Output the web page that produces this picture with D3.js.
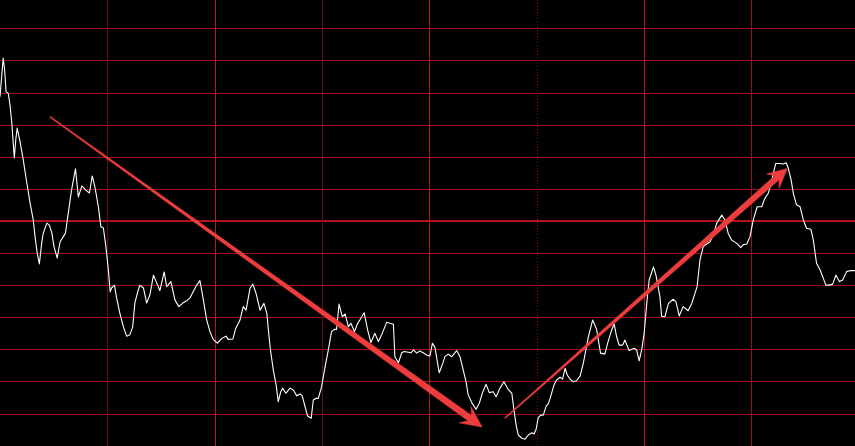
<!DOCTYPE html>
<html>
<head>
<meta charset="utf-8">
<script src="https://cdn.jsdelivr.net/npm/d3@7"></script>
<style>
  html, body { margin: 0; padding: 0; background: #000; overflow: hidden; }
</style>
</head>
<body>
<div id="my_dataviz"></div>
<script>
// intraday trace: minute of session and % change vs previous close
var minutes = [0, 0.5, 0.9, 1.3, 1.7, 2.3, 2.8, 3.3, 3.7, 4.0, 4.4, 4.8, 5.6, 6.5, 7.5, 8.4, 9.3, 9.8, 10.4, 11.0,
  11.7, 12.1, 13.1, 13.8, 14.5, 15.1, 16.0, 16.8, 17.7, 18.3, 19.1, 20.0, 21.1, 21.9, 22.9, 24.0, 25.0, 25.8, 26.6, 27.5,
  28.2, 28.9, 29.6, 30.3, 30.8, 31.2, 32.0, 32.6, 33.5, 34.5, 35.4, 36.3, 37.1, 37.7, 38.5, 39.1, 40.1, 41.0, 41.9, 42.9,
  43.8, 44.7, 45.9, 46.6, 47.8, 48.9, 50.0, 51.1, 52.2, 53.1, 54.0, 55.0, 55.9, 56.7, 57.8, 58.7, 59.6, 60.8, 62.0, 63.2,
  63.8, 65.1, 65.9, 67.1, 68.0, 68.8, 69.9, 70.7, 71.6, 72.7, 73.8, 74.6, 75.5, 76.4, 77.2, 77.8, 78.5, 79.0, 79.9, 81.1,
  82.0, 83.0, 83.9, 84.5, 85.3, 86.0, 87.0, 87.6, 88.3, 89.0, 89.9, 90.9, 91.8, 92.7, 93.5, 94.1, 94.8, 95.7, 96.5, 97.4,
  98.1, 99.1, 100.0, 100.6, 101.8, 102.8, 103.7, 104.8, 105.8, 106.7, 108.1, 109.0, 110.0, 110.4, 111.4, 112.3, 113.0, 114.2, 114.9, 115.6,
  116.5, 117.4, 118.3, 119.3, 120.2, 120.9, 121.6, 122.8, 123.8, 124.4, 125.3, 126.3, 127.7, 128.6, 129.5, 130.3, 130.9, 131.9, 133.1, 134.0,
  135.0, 135.9, 136.8, 137.9, 138.7, 139.8, 140.9, 142.1, 143.1, 143.7, 144.3, 144.9, 145.9, 146.8, 147.7, 148.7, 149.3, 149.9, 150.5, 151.2,
  151.9, 152.7, 153.3, 153.8, 154.9, 155.6, 156.6, 157.3, 158.0, 158.6, 159.4, 160.3, 161.2, 162.2, 163.1, 164.5, 165.7, 166.8, 167.9, 169.1,
  169.9, 171.0, 171.7, 172.4, 173.1, 174.1, 174.7, 175.9, 177.3, 178.0, 178.7, 179.4, 180.1, 181.0, 181.5, 182.7, 183.4, 184.5, 185.0, 185.9,
  186.9, 188.2, 189.0, 189.9, 191.0, 192.4, 193.4, 194.3, 194.9, 195.7, 196.6, 197.6, 198.5, 199.4, 200.4, 201.8, 202.7, 203.6, 204.6, 206.0,
  207.1, 207.8, 208.8, 209.7, 210.6, 211.7, 213.0, 213.7, 214.8, 215.5, 216.2, 216.9, 218.1, 219.0, 219.8, 220.4, 221.2, 221.8, 222.7, 223.7,
  224.6, 225.5, 226.7, 227.4, 228.3, 229.3, 230.2, 230.9, 231.9, 232.8, 233.7, 234.7, 235.6, 236.7, 237.6, 239.0];
var pctChange = [3.87, 4.55, 5.07, 4.70, 4.02, 3.98, 3.61, 3.05, 2.43, 1.96, 2.52, 2.89, 2.47, 1.90, 1.18, 0.56, 0.03, -0.49, -1.00, -1.34,
  -0.65, -0.38, -0.07, -0.13, -0.38, -0.80, -1.16, -0.65, -0.49, -0.38, 0.25, 0.96, 1.62, 0.75, 1.09, 0.96, 0.87, 1.40, 1.02, 0.44,
  -0.18, -0.22, -0.80, -1.53, -2.21, -2.09, -2.00, -2.40, -2.87, -3.30, -3.59, -3.55, -3.30, -2.56, -2.21, -2.00, -2.09, -2.56, -2.31, -1.69,
  -1.93, -2.17, -1.59, -2.05, -1.89, -2.46, -2.67, -2.56, -2.49, -2.40, -2.21, -2.00, -1.86, -2.36, -3.09, -3.45, -3.69, -3.81, -3.66, -3.59,
  -3.69, -3.68, -3.35, -3.09, -2.67, -2.78, -2.10, -1.97, -2.26, -2.78, -2.57, -2.88, -3.92, -4.64, -5.11, -5.63, -5.32, -5.21, -5.37, -5.21,
  -5.27, -5.45, -5.39, -5.45, -5.79, -6.08, -6.15, -5.58, -5.53, -5.53, -5.17, -4.54, -4.02, -3.45, -3.38, -3.38, -2.59, -2.98, -2.90, -3.30,
  -3.19, -3.45, -3.19, -3.09, -2.86, -3.40, -3.79, -3.50, -3.76, -3.55, -3.16, -3.19, -3.22, -4.23, -4.42, -4.11, -4.07, -4.09, -4.11, -4.02,
  -4.12, -4.05, -4.11, -4.18, -4.21, -3.81, -3.94, -4.73, -4.44, -4.23, -4.15, -4.23, -4.04, -4.23, -4.64, -5.01, -5.42, -5.66, -5.87, -5.68,
  -5.32, -5.09, -5.35, -5.32, -5.48, -5.21, -5.01, -5.25, -5.37, -5.89, -6.36, -6.67, -6.77, -6.80, -6.67, -6.60, -6.64, -6.49, -6.12, -6.05,
  -6.05, -5.77, -5.70, -5.53, -5.11, -4.96, -4.87, -4.93, -4.59, -4.80, -4.93, -5.01, -4.98, -4.83, -4.43, -3.61, -3.09, -3.38, -4.12, -4.15,
  -3.81, -3.40, -3.21, -3.61, -3.87, -3.87, -3.71, -4.04, -3.97, -4.02, -4.36, -4.02, -3.50, -2.36, -1.84, -1.43, -1.69, -2.36, -2.98, -2.98,
  -2.57, -2.44, -2.52, -2.96, -2.67, -2.80, -2.57, -2.26, -2.05, -1.22, -0.80, -0.72, -0.65, -0.44, -0.07, 0.18, 0.03, -0.39, -0.60, -0.70,
  -0.83, -0.74, -0.72, -0.49, 0.03, 0.44, 0.44, 0.67, 0.86, 1.12, 1.48, 1.79, 1.79, 1.77, 1.81, 1.64, 1.27, 0.86, 0.50, 0.44,
  0.03, -0.23, -0.26, -0.60, -1.32, -1.53, -1.79, -2.00, -2.00, -1.97, -1.69, -1.89, -1.84, -1.58, -1.55, -1.55];

// grid positions
var pctLevels = [-6, -5, -4, -3, -2, -1, 0, 1, 2, 3, 4, 5, 6];
var hourMinutes = [60, 120, 180];
var halfHourMinutes = [30, 90, 210];
var dottedMinutes = [150];

// annotation arrows (tail -> tip)
var arrowTailMinute = [14.0, 141.2];
var arrowTailPct = [3.24, -6.14];
var arrowTipMinute = [134.8, 220.1];
var arrowTipPct = [-6.42, 1.63];
var arrowNeckHalf = [3.2, 3.0];
var arrowHeadLen = [21, 19];
var arrowHeadHalf = [10, 9.5];

var width = 855,
    height = 446;

var svg = d3.select("#my_dataviz")
  .append("svg")
    .attr("width", width)
    .attr("height", height)
    .style("display", "block")
    .style("background", "#000");

var x = d3.scaleLinear()
  .domain([0, 240])
  .range([0, 858.4]);

var y = d3.scaleLinear()
  .domain([-7, 7])
  .range([445.6, -3.8]);

// horizontal grid
svg.append("g")
  .selectAll("line")
  .data(pctLevels)
  .enter()
  .append("line")
    .attr("x1", 0)
    .attr("x2", width)
    .attr("y1", function(d) { return d == 0 ? Math.round(y(d)) : Math.round(y(d)) + 0.5; })
    .attr("y2", function(d) { return d == 0 ? Math.round(y(d)) : Math.round(y(d)) + 0.5; })
    .attr("stroke", function(d) { return d == 0 ? "#b4101f" : "#a00e1e"; })
    .attr("stroke-width", function(d) { return d == 0 ? 2 : 1; });

// vertical grid
svg.append("g")
  .selectAll("line")
  .data(hourMinutes)
  .enter()
  .append("line")
    .attr("x1", function(d) { return Math.round(x(d)) + 0.5; })
    .attr("x2", function(d) { return Math.round(x(d)) + 0.5; })
    .attr("y1", 0)
    .attr("y2", height)
    .attr("stroke", "#c01424")
    .attr("stroke-width", 1);

svg.append("g")
  .selectAll("line")
  .data(halfHourMinutes)
  .enter()
  .append("line")
    .attr("x1", function(d) { return Math.round(x(d)) + 0.5; })
    .attr("x2", function(d) { return Math.round(x(d)) + 0.5; })
    .attr("y1", 0)
    .attr("y2", height)
    .attr("stroke", function(d) { return d == 210 ? "#9a0e1e" : "#6a0a16"; })
    .attr("stroke-width", 1);

svg.append("g")
  .selectAll("line")
  .data(dottedMinutes)
  .enter()
  .append("line")
    .attr("x1", function(d) { return Math.round(x(d)) + 0.5; })
    .attr("x2", function(d) { return Math.round(x(d)) + 0.5; })
    .attr("y1", 0)
    .attr("y2", height)
    .attr("stroke", "#8a0c1a")
    .attr("stroke-width", 1)
    .attr("stroke-dasharray", "1,2");

// price line
var points = minutes.map(function(m, i) { return [m, pctChange[i]]; });

svg.append("path")
  .datum(points)
  .attr("fill", "none")
  .attr("stroke", "#ffffff")
  .attr("stroke-width", 1.1)
  .attr("stroke-linejoin", "round")
  .attr("d", d3.line()
    .x(function(d) { return x(d[0]); })
    .y(function(d) { return y(d[1]); }));

// tapered arrows
function arrowPath(i) {
  var x0 = x(arrowTailMinute[i]), y0 = y(arrowTailPct[i]);
  var x1 = x(arrowTipMinute[i]), y1 = y(arrowTipPct[i]);
  var len = Math.sqrt((x1 - x0) * (x1 - x0) + (y1 - y0) * (y1 - y0));
  var ux = (x1 - x0) / len, uy = (y1 - y0) / len;
  var nx = -uy, ny = ux;
  var h = arrowHeadLen[i], sw = arrowNeckHalf[i], hw = arrowHeadHalf[i], tw = 0.5;
  var neck = [x1 - ux * h * 0.72, y1 - uy * h * 0.72];
  var wing = [x1 - ux * h, y1 - uy * h];
  var pts = [
    [x0 + nx * tw, y0 + ny * tw],
    [neck[0] + nx * sw, neck[1] + ny * sw],
    [wing[0] + nx * hw, wing[1] + ny * hw],
    [x1, y1],
    [wing[0] - nx * hw, wing[1] - ny * hw],
    [neck[0] - nx * sw, neck[1] - ny * sw],
    [x0 - nx * tw, y0 - ny * tw]
  ];
  return "M" + pts.map(function(p) { return p[0].toFixed(2) + "," + p[1].toFixed(2); }).join("L") + "Z";
}

svg.append("g")
  .selectAll("path")
  .data(arrowTipMinute)
  .enter()
  .append("path")
    .attr("d", function(d, i) { return arrowPath(i); })
    .attr("fill", "#ee3d3d")
    .attr("stroke", "#ee3d3d")
    .attr("stroke-width", 0.6)
    .attr("stroke-linejoin", "round");
</script>
</body>
</html>
